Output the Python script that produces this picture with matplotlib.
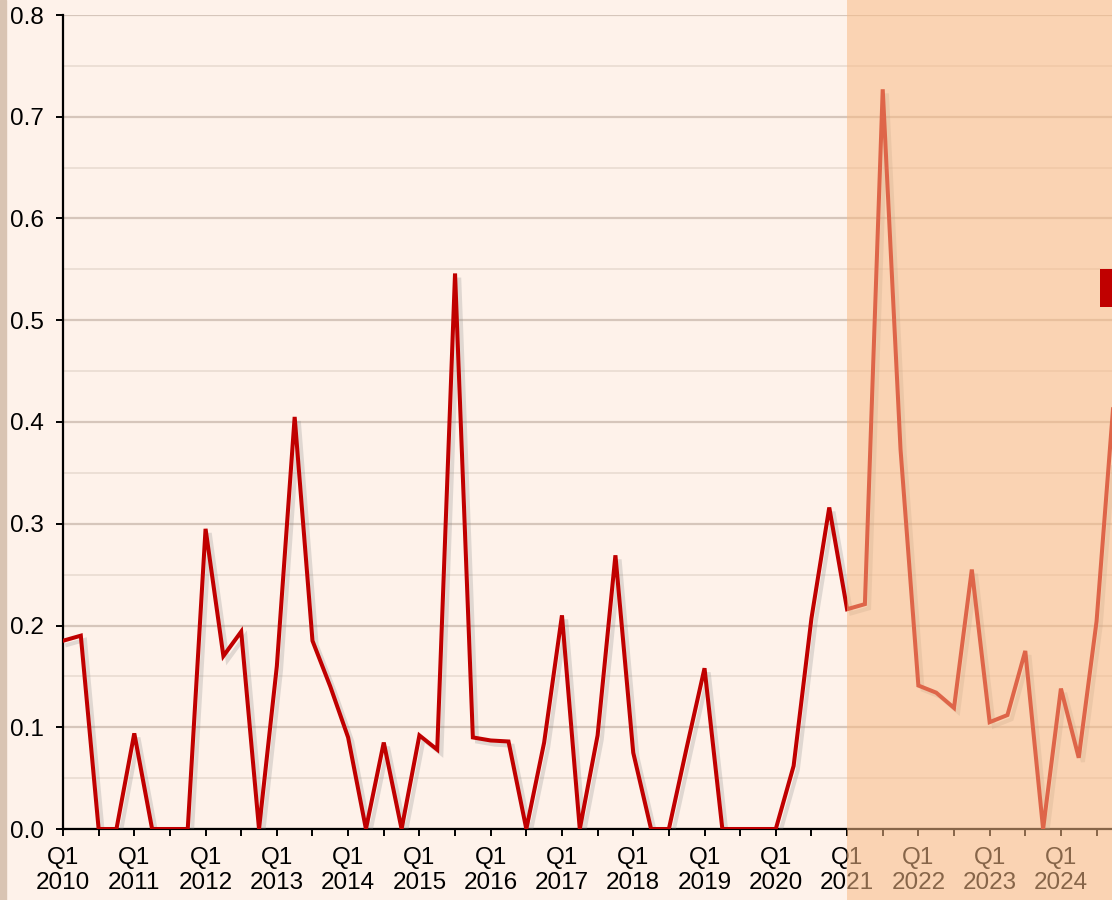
import numpy as np
import matplotlib
matplotlib.use("Agg")
import matplotlib.pyplot as plt
import matplotlib.patheffects as pe
from matplotlib.patches import Rectangle

plt.rcParams['font.family'] = ['Liberation Sans', 'DejaVu Sans']

# quarterly values, Q1 2010 onwards
years = list(range(2010, 2025))
values = [0.185, 0.190, 0.0, 0.0,
          0.094, 0.0, 0.0, 0.0,
          0.295, 0.170, 0.194, 0.0,
          0.160, 0.405, 0.185, 0.140,
          0.090, 0.0, 0.085, 0.0,
          0.092, 0.078, 0.546, 0.090,
          0.087, 0.086, 0.0, 0.085,
          0.210, 0.0, 0.092, 0.269,
          0.075, 0.0, 0.0, 0.080,
          0.158, 0.0, 0.0, 0.0,
          0.0, 0.062, 0.207, 0.316,
          0.216, 0.221, 0.727, 0.373,
          0.141, 0.134, 0.119, 0.255,
          0.105, 0.112, 0.175, 0.0,
          0.138, 0.070, 0.204, 0.430]

bg = '#FEF2EA'
fig = plt.figure(figsize=(11.12, 9), dpi=100, facecolor=bg)
W, H = 1112, 900
ax = fig.add_axes([63 / W, (H - 829) / H, (W - 63) / W, (829 - 15) / H])
ax.set_facecolor(bg)

x = np.arange(len(values))
ax.plot(x, values, color='#C00000', lw=2.9, solid_joinstyle='miter', zorder=3,
        path_effects=[pe.SimpleLineShadow(offset=(3, -3), shadow_color='#888888', alpha=0.25),
                      pe.Normal()])

ax.set_ylim(0, 0.8)
ax.set_xlim(0, (W - 63) / 17.82)
ax.set_yticks(np.arange(0, 0.81, 0.1))
ax.set_yticklabels([f"{v:.1f}" for v in np.arange(0, 0.81, 0.1)])
ax.set_yticks(np.arange(0.05, 0.8, 0.1), minor=True)

ticks = list(range(0, len(values), 2))
labels = [f"Q1\n{years[t // 4]}" if t % 4 == 0 else "" for t in ticks]
ax.set_xticks(ticks)
ax.set_xticklabels(labels)

ax.grid(axis='y', which='major', color='#D6C6BB', lw=1.6, zorder=0)
ax.grid(axis='y', which='minor', color='#EBDDD3', lw=1.3, zorder=0)
ax.set_axisbelow(True)

for s in ['top', 'right']:
    ax.spines[s].set_visible(False)
for s in ['left', 'bottom']:
    ax.spines[s].set_linewidth(1.6)
    ax.spines[s].set_color('black')
ax.tick_params(axis='both', which='major', length=5, width=1.4, labelsize=17.5, color='black')
ax.tick_params(axis='y', which='minor', length=0)
ax.tick_params(axis='y', pad=9)
ax.tick_params(axis='x', pad=8)
for lab in ax.get_xticklabels():
    lab.set_linespacing(1.2)

# left edge strip
fig.patches.append(Rectangle((0, 0), 6 / W, 1, transform=fig.transFigure,
                             color='#D9C4B3', zorder=5))
# forecast highlight overlay
fig.patches.append(Rectangle((847 / W, 0), 1 - 847 / W, 1, transform=fig.transFigure,
                             color='#F7BA86', alpha=0.55, lw=0, zorder=10))
# partially visible legend marker
fig.patches.append(Rectangle((1100 / W, (H - 307) / H), 0.02, 38 / H, transform=fig.transFigure,
                             color='#C00000', lw=0, zorder=11))

fig.savefig('out.png', dpi=100, facecolor=bg)
